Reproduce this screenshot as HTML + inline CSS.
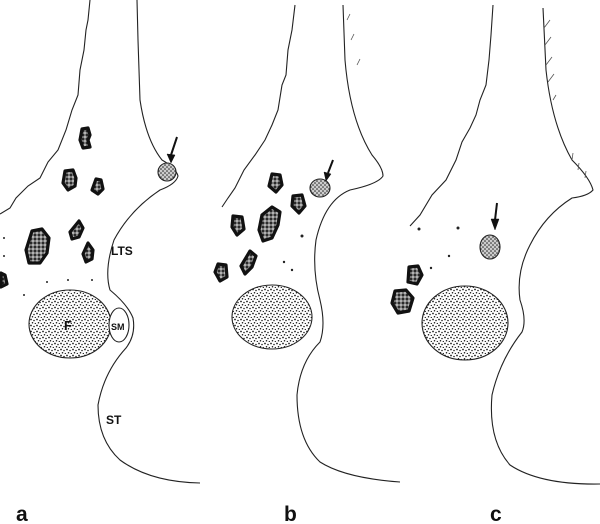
<!DOCTYPE html>
<html><head><meta charset="utf-8"><style>
html,body{margin:0;padding:0;background:#fff;width:600px;height:524px;overflow:hidden}
svg{display:block}
text{font-family:"Liberation Sans",Arial,sans-serif;font-weight:bold;fill:#111}
</style></head><body>
<svg width="600" height="524" viewBox="0 0 600 524" xmlns="http://www.w3.org/2000/svg">
<defs>
<pattern id="st" width="6" height="6" patternUnits="userSpaceOnUse">
<rect width="6" height="6" fill="#fff"/>
<circle cx="1" cy="1.5" r="0.85" fill="#111"/>
<circle cx="4" cy="2.5" r="0.75" fill="#111"/>
<circle cx="2.5" cy="4.8" r="0.75" fill="#111"/>
<circle cx="5.3" cy="5.5" r="0.65" fill="#111"/>
</pattern>
<pattern id="st2" width="4" height="4" patternUnits="userSpaceOnUse">
<rect width="4" height="4" fill="#ccc"/>
<circle cx="1" cy="1" r="0.8" fill="#222"/>
<circle cx="3" cy="3" r="0.8" fill="#222"/>
</pattern>
<pattern id="st3" width="4" height="4" patternUnits="userSpaceOnUse">
<rect width="4" height="4" fill="#777"/>
<circle cx="1" cy="1" r="0.9" fill="#ddd"/>
<circle cx="3" cy="3" r="1" fill="#111"/>
</pattern>
</defs>
<g fill="none" stroke="#222" stroke-width="1.1">
<path d="M90,0 L88,20 L86,30 L84,50 L80,70 L78,95 L72,110 L66,130 L58,150 L48,162 L40,178 L28,186 L16,198 L10,208 L0,214"/>
<path d="M137,0 L138,40 L140,100 Q146,140 162,160 Q176,168 178,176 Q176,184 160,190 Q130,210 114,240 Q104,270 110,290 Q128,305 133,318 Q136,335 126,348 Q104,372 98,405 Q98,440 120,460 Q150,482 200,483"/>
<path d="M295,5 L292,30 L288,50 L286,75 L282,85 L278,110 L272,125 L265,140 L255,155 L244,170 L235,188 L228,198 L222,207"/>
<path d="M343,5 L345,60 Q350,120 372,155 Q383,168 383,176 Q378,184 350,190 Q325,200 316,240 Q312,270 320,300 Q326,325 320,342 Q300,362 297,395 Q297,440 320,462 Q345,478 400,482"/>
<path d="M493,5 L491,35 L489,60 L486,85 L480,100 L476,115 L470,128 L462,142 L456,160 L446,180 L432,195 L420,215 L410,226"/>
<path d="M543,8 L546,70 Q552,125 572,160 Q590,178 593,190 Q588,196 572,198 Q545,215 530,245 Q516,272 520,300 Q527,320 522,332 Q500,360 492,395 Q488,440 510,465 Q540,485 600,484"/>
</g>
<g stroke="#555" stroke-width="0.8">
<path d="M544,28 L550,20 M545,45 L551,37 M546,65 L552,57 M548,82 L554,74 M572,160 L573,153 M578,170 L579,163 M585,178 L586,171 M553,100 L556,95"/>
<path d="M347,20 L350,14 M351,40 L354,34 M357,65 L360,59"/>
</g>
<g stroke="#222" stroke-width="1.1">
<ellipse cx="70" cy="324" rx="41" ry="34" fill="url(#st)"/>
<ellipse cx="119" cy="325" rx="10" ry="17" fill="#fff"/>
<ellipse cx="272" cy="317" rx="40" ry="32" fill="url(#st)"/>
<ellipse cx="465" cy="323" rx="43" ry="37" fill="url(#st)"/>
<circle cx="167" cy="172" r="9" fill="url(#st2)"/>
<ellipse cx="320" cy="188" rx="10" ry="9" fill="url(#st2)"/>
<ellipse cx="490" cy="247" rx="10" ry="12" fill="url(#st2)"/>
</g>
<g stroke="#111" stroke-width="2" fill="#111">
<line x1="177" y1="137" x2="171" y2="155"/><path d="M167,154 L171,163 L175,155 Z" stroke-width="0.5"/>
<line x1="333" y1="160" x2="328" y2="173"/><path d="M324,172 L326,181 L331,174 Z" stroke-width="0.5"/>
<line x1="497" y1="203" x2="495" y2="220"/><path d="M491,219 L495,230 L499,219 Z" stroke-width="0.5"/>
</g>
<g fill="url(#st3)" stroke="#111" stroke-width="3.2" stroke-linejoin="round">
<path d="M82,129 L88,128 L90,135 L88,140 L90,147 L83,148 L80,140 Z"/>
<path d="M65,171 L73,170 L76,178 L75,186 L68,190 L63,183 Z"/>
<path d="M96,179 L101,180 L103,189 L98,194 L92,190 Z"/>
<path d="M79,221 L83,228 L79,237 L72,239 L70,232 Z"/>
<path d="M88,243 L93,250 L92,259 L86,262 L83,254 Z"/>
<path d="M32,231 L42,229 L49,238 L47,253 L40,263 L29,263 L26,250 Z"/>
<path d="M1,273 L5,275 L7,284 L1,287 Z"/>
<path d="M272,174 L280,175 L282,185 L276,192 L269,186 Z"/>
<path d="M293,196 L302,195 L305,206 L299,213 L292,206 Z"/>
<path d="M272,207 L280,212 L278,225 L272,238 L263,241 L259,230 L262,215 Z"/>
<path d="M233,216 L242,217 L244,229 L237,235 L232,227 Z"/>
<path d="M250,251 L256,256 L252,267 L245,274 L241,266 Z"/>
<path d="M218,264 L226,265 L227,277 L220,281 L215,272 Z"/>
<path d="M409,267 L418,266 L422,275 L417,284 L408,282 Z"/>
<path d="M395,291 L406,290 L413,298 L409,311 L398,313 L392,303 Z"/>
</g>
<g fill="#222">
<circle cx="302" cy="236" r="1.5"/><circle cx="284" cy="262" r="1.2"/><circle cx="292" cy="270" r="1.2"/>
<circle cx="419" cy="229" r="1.5"/><circle cx="458" cy="228" r="1.5"/><circle cx="449" cy="256" r="1.2"/><circle cx="431" cy="268" r="1.2"/>
<circle cx="4" cy="238" r="1"/><circle cx="4" cy="256" r="1"/><circle cx="24" cy="295" r="1"/><circle cx="47" cy="282" r="1"/><circle cx="68" cy="280" r="1"/><circle cx="92" cy="280" r="1"/>
</g>
<text x="111" y="255" font-size="12">LTS</text>
<text x="64" y="330" font-size="13">F</text>
<text x="111" y="330" font-size="9">SM</text>
<text x="106" y="424" font-size="12">ST</text>
<text x="16" y="521" font-size="21" font-weight="normal">a</text>
<text x="284" y="521" font-size="21" font-weight="normal">b</text>
<text x="490" y="521" font-size="21" font-weight="normal">c</text>
</svg>
</body></html>
